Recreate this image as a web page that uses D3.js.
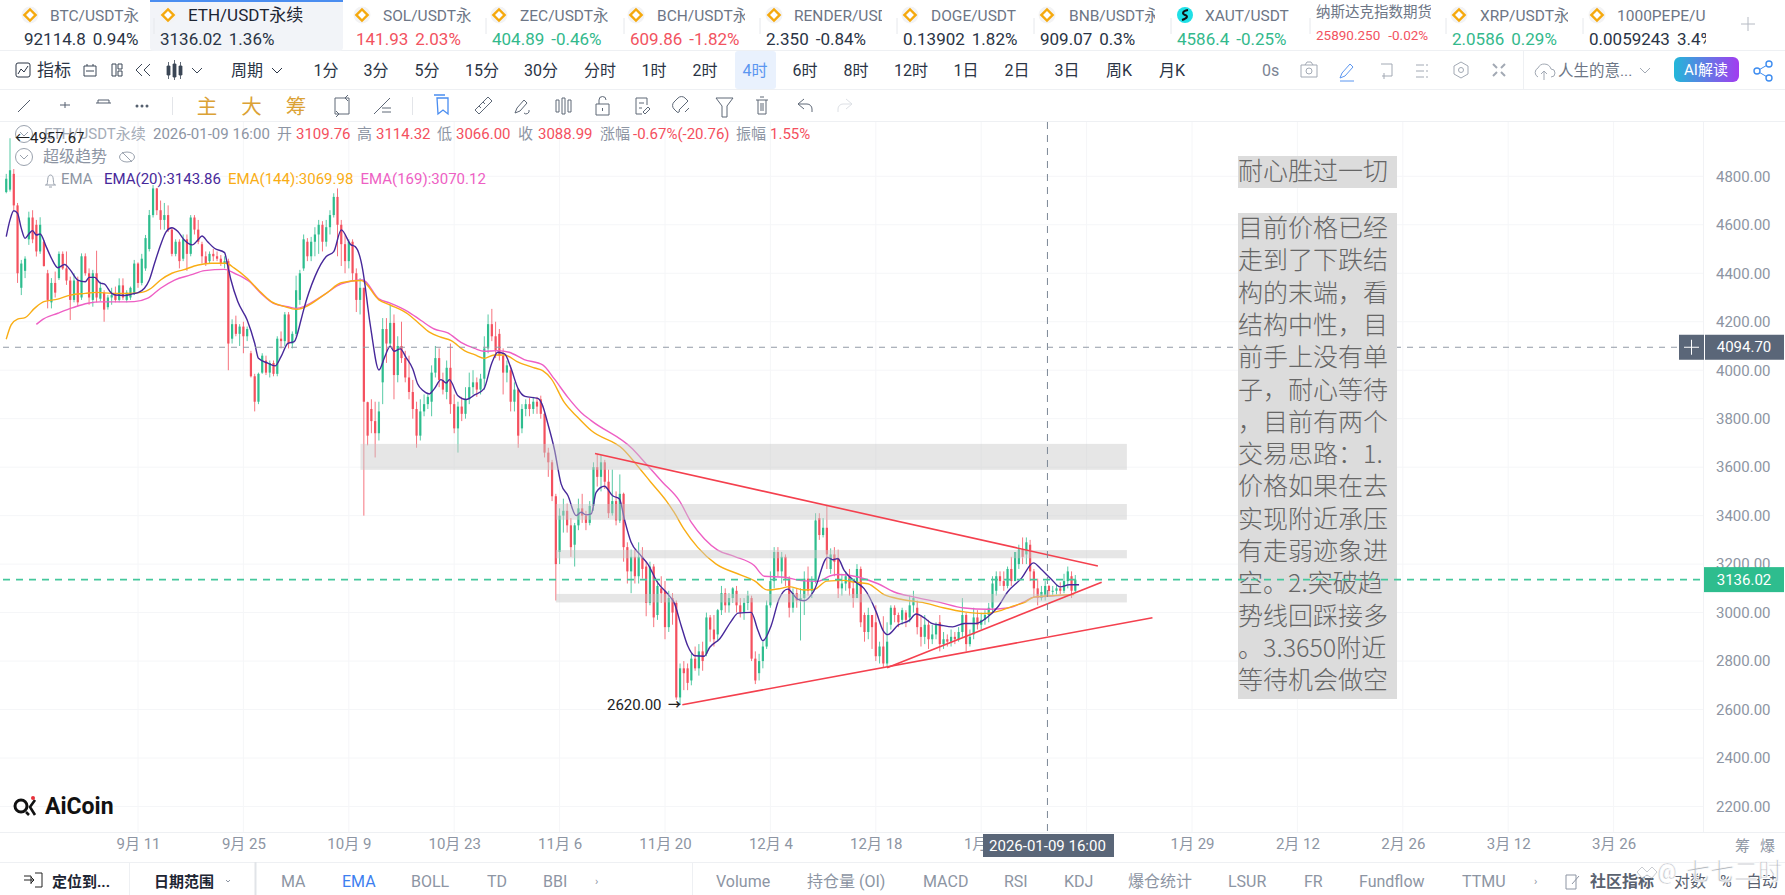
<!DOCTYPE html>
<html>
<head>
<meta charset="utf-8">
<script src="https://cdn.jsdelivr.net/npm/d3@7"></script>
<style>
  html, body { margin: 0; padding: 0; background: #fff; overflow: hidden; }
  text { font-family: Roboto, "Noto Sans CJK SC", sans-serif; }
</style>
</head>
<body>
<script>
// 12h candles, first one is 2025-08-24 12:00
var opens = [4735,4745,4810,4680,4340,4410,4540,4630,4600,4490,4530,4400,4280,4360,4380,4480,4420,4370,4290,4370,
  4300,4470,4400,4290,4400,4295,4320,4260,4300,4310,4290,4350,4290,4300,4320,4440,4360,4420,4500,4640,
  4750,4660,4620,4640,4580,4480,4530,4460,4540,4480,4630,4580,4520,4470,4450,4480,4470,4460,4440,4450,
  4130,4190,4150,4180,4140,4070,3975,3870,3990,4040,3990,4030,3985,4130,4120,4230,4110,4150,4290,4420,
  4530,4470,4530,4560,4600,4530,4590,4640,4715,4600,4520,4450,4530,4400,4290,4340,3868,3840,3790,3740,
  3950,4170,4110,4195,3980,4100,4050,3970,3910,3840,3730,3830,3860,3870,3990,4050,3960,3910,4010,3860,
  3760,3850,3820,3880,3930,3950,3920,3965,4090,4190,4140,4150,4060,3990,4000,3870,3920,3760,3840,3860,
  3840,3870,3880,3820,3660,3620,3480,3250,3400,3420,3360,3280,3360,3430,3400,3370,3440,3600,3560,3620,
  3540,3410,3460,3380,3490,3270,3170,3230,3150,3230,3190,3040,3190,2990,3100,3090,2940,3060,3040,2650,
  2770,2770,2720,2810,2770,2840,2830,2980,2930,2910,3010,3080,3030,3060,3090,3030,3000,3040,3060,2810,
  2750,2800,2860,3030,3130,3250,3170,3230,3140,3020,3080,3050,3060,3140,3090,3130,3390,3320,3350,3180,
  3240,3225,3100,3120,3150,3100,3060,3180,2990,2920,2990,2960,2820,2860,2790,2950,3020,2990,2970,3000,
  2980,3030,3020,2940,2900,2950,2890,2910,2960,2870,2890,2880,2900,2890,2920,2990,2870,2910,2980,2950,
  2970,2990,3020,3090,3150,3130,3110,3180,3130,3200,3260,3240,3280,3170,3100,3060,3070,3109.76,3088.99,3090,
  3100,3090,3130,3150,3090];
var highs = [4810,4957,4830,4690,4455,4470,4654,4660,4620,4631,4537,4414,4380,4407,4490,4490,4490,4386,4400,4386,
  4482,4482,4420,4414,4493,4365,4330,4310,4340,4345,4379,4379,4330,4345,4455,4445,4480,4558,4661,4764,
  4752,4700,4690,4680,4590,4540,4540,4560,4560,4640,4640,4620,4530,4490,4490,4500,4490,4475,4470,4460,
  4210,4225,4190,4200,4180,4080,3985,3990,4070,4060,4040,4040,4140,4160,4240,4240,4160,4390,4414,4560,
  4545,4550,4590,4620,4615,4620,4660,4730,4750,4620,4560,4540,4540,4420,4380,4340,3870,3880,3870,3870,
  4215,4215,4270,4230,4140,4200,4080,4060,3960,3870,3880,3900,3905,4020,4100,4090,3990,4040,4110,3900,
  3870,3890,3930,3990,4000,3970,3985,4140,4230,4253,4200,4170,4090,4040,4020,3950,3925,3860,3880,3885,
  3890,3890,3895,3825,3680,3630,3490,3430,3470,3450,3390,3370,3470,3490,3420,3460,3620,3654,3650,3630,
  3590,3590,3500,3570,3495,3290,3260,3260,3290,3270,3210,3210,3200,3130,3150,3130,3090,3080,3050,2790,
  2800,2790,2830,2860,2870,2880,3000,2990,2990,3015,3110,3100,3080,3105,3110,3060,3060,3090,3070,2840,
  2830,2880,3050,3170,3270,3270,3250,3240,3150,3100,3100,3100,3170,3190,3150,3410,3410,3390,3440,3265,
  3270,3260,3160,3170,3180,3130,3200,3190,3000,3020,2990,3030,2880,2985,2960,3030,3030,3000,3020,3010,
  3070,3090,3050,2990,2990,2970,2950,2960,2990,2920,2910,2930,2920,2940,3060,3000,2930,3020,3010,3000,
  3010,3040,3150,3170,3170,3170,3190,3230,3223,3280,3310,3310,3300,3180,3140,3110,3130,3114.32,3110,3115,
  3125,3160,3190,3170,3155];
var lows = [4730,4737,4660,4360,4310,4380,4517,4524,4469,4480,4427,4255,4255,4300,4372,4414,4352,4207,4280,4262,
  4290,4390,4270,4262,4280,4285,4200,4250,4270,4280,4280,4290,4280,4290,4310,4340,4350,4410,4490,4630,
  4640,4580,4580,4570,4470,4470,4420,4450,4410,4470,4560,4520,4440,4430,4440,4450,4450,4430,4420,4000,
  4110,4140,4100,4070,4120,3970,3830,3860,3985,3980,3970,3975,3975,4090,4100,4090,4090,4140,4270,4410,
  4450,4450,4470,4480,4490,4510,4560,4630,4470,4430,4400,4420,4370,4240,4230,3400,3690,3740,3640,3710,
  3860,4030,4100,3880,3950,4030,3950,3880,3800,3680,3710,3810,3840,3810,3970,3930,3900,3880,3820,3740,
  3660,3790,3800,3860,3900,3890,3900,3920,4070,4120,4050,4040,3900,3950,3830,3830,3680,3740,3810,3810,
  3820,3820,3800,3640,3560,3460,3050,3200,3330,3330,3230,3190,3340,3370,3340,3360,3420,3520,3500,3510,
  3390,3400,3360,3370,3210,3120,3080,3120,3120,3140,2985,3030,2940,2970,3040,2890,2920,2950,2640,2620,
  2680,2680,2700,2760,2740,2760,2820,2880,2860,2880,2990,3000,3000,3040,3000,2980,2970,3010,2800,2705,
  2720,2770,2850,3020,3100,3150,3120,3110,2980,3000,3020,2885,2990,3070,3060,3120,3300,3310,3180,3160,
  3150,3060,3070,3090,3070,3020,3060,2940,2880,2890,2850,2800,2790,2775,2776,2930,2960,2940,2950,2940,
  2960,3000,2910,2860,2870,2850,2870,2890,2840,2850,2860,2860,2870,2880,2900,2840,2860,2890,2930,2930,
  2950,2960,3000,3070,3110,3090,3100,3110,3130,3180,3200,3200,3130,3060,3030,3050,3050,3066,3070,3075,
  3075,3080,3100,3060,3085];
var closes = [4790,4825,4680,4400,4440,4460,4630,4540,4490,4600,4430,4290,4360,4320,4480,4420,4370,4290,4370,4280,
  4470,4400,4300,4400,4300,4340,4250,4300,4310,4290,4350,4300,4320,4340,4440,4360,4460,4545,4640,4750,
  4660,4620,4640,4580,4480,4530,4450,4540,4480,4630,4580,4530,4470,4440,4480,4470,4460,4440,4450,4110,
  4190,4150,4180,4140,4170,3975,3870,3985,4060,3990,4030,3985,4130,4120,4230,4110,4150,4330,4400,4540,
  4470,4530,4560,4600,4530,4590,4640,4715,4600,4520,4450,4530,4400,4290,4340,3870,3730,3790,3740,3830,
  4170,4110,4195,3980,4100,4050,3970,3910,3840,3730,3830,3860,3890,3990,4050,3960,3920,4010,3860,3760,
  3850,3820,3880,3930,3950,3920,3965,4090,4190,4140,4080,4060,3990,4020,3870,3920,3730,3840,3860,3840,
  3870,3850,3820,3660,3620,3480,3200,3400,3420,3360,3270,3360,3430,3400,3370,3440,3600,3560,3620,3540,
  3410,3460,3380,3490,3270,3170,3230,3150,3230,3180,3040,3190,2980,3110,3080,2940,3060,3000,2650,2770,
  2750,2710,2810,2770,2840,2800,2980,2930,2890,3010,3080,3030,3060,3100,3030,3000,3040,3070,2810,2720,
  2800,2860,3030,3130,3250,3170,3230,3140,3020,3080,3050,3060,3140,3090,3130,3380,3320,3350,3240,3240,
  3210,3100,3120,3150,3100,3060,3180,2960,2920,2990,2940,2820,2860,2790,2880,3020,2990,2960,3010,2970,
  3030,3060,2940,2900,2950,2890,2910,2950,2870,2890,2880,2900,2890,2920,2990,2870,2900,2980,2950,2970,
  2990,3020,3120,3150,3130,3110,3180,3130,3250,3260,3230,3290,3170,3100,3060,3085,3110,3088.99,3090,3100,
  3090,3130,3170,3090,3136.02];

// ema readings, position given in candle slots
var ema20At = [0,1,2,3,4,5,6,7,8,9,10.6,12,13.7,15.5,17,19,21,22,23.5,25,26,28,29,31.5,33.6,35,36.7,38,39.4,41,42.5,44,45.6,47.3,49.4,50.9,52,53.5,55.3,58,58.7,59.7,61.5,64,66,67,69.5,71.4,73,74.8,76.5,78.3,79,82,85,87,89,91.6,92.7,94.7,95.7,96,97,99,100.5,102,103,104.7,106.2,108,109.3,110.7,112.4,113.7,115.5,116.9,117.7,120,122.2,124.4,126.9,128.9,130.6,132.4,134,136,137.8,141.2,142.3,143.9,145.6,147.4,149.2,151.4,152.7,154,155.4,156.7,158.9,161.1,162.9,164.2,166,168.2,170.4,173,176.1,177.4,179.3,181,182.9,185.4,186.9,189.5,192.7,194.4,197.9,199.7,201,203.2,205.3,207.6,210.2,212,214.6,218.2,219.6,220.9,222.6,225.8,227.9,231.1,232.9,234.2,236.9,239.9,241.7,243.9,245.7,248.3,251.4,254.5,257.6,260.7,263.4,266,269.6,272.9,274.8,277.5,280,282.4,285];
var ema20 = [4551,4620,4658,4647,4585,4544,4562,4576,4558,4562,4510,4462,4423,4436,4414,4372,4365,4383,4383,4359,4356,4317,4310,4308,4315,4320,4338,4372,4441,4517,4572,4588,4572,4537,4517,4537,4554,4530,4503,4485,4441,4372,4283,4207,4111,4049,4029,4018,4056,4111,4118,4207,4249,4386,4469,4489,4579,4517,4510,4414,4304,4266,4156,4001,4053,4099,4078,4088,4053,4005,3943,3916,3902,3923,3961,3947,3961,3895,3879,3898,3923,4026,4074,4067,4012,3923,3892,3884,3861,3778,3675,3531,3483,3400,3414,3403,3407,3496,3521,3482,3469,3386,3290,3242,3201,3125,3070,3042,2946,2864,2822,2820,2857,2891,2967,2998,3001,2926,2884,2946,3056,3097,3056,3049,3091,3228,3218,3223,3174,3124,3099,3003,2927,2909,2948,2968,2994,2978,2957,2948,2941,2955,2955,2982,3023,3085,3140,3205,3181,3140,3106,3115,3115];
var ema144At = [0,1.3,3,5,7.5,10,13.7,17,21,24,28,32,36,38.5,41,44,47,51,54.4,58.4,60.6,64,67,70.4,74,77,85,89,94.3,99,102,106.7,109.3,112.4,115.5,118.2,121.7,124.4,127,129.6,132.3,136,140.4,142.5,144.8,148.2,151.8,155.4,163.8,168.7,171.3,175.3,177.4,180,183.7,188.5,195.2,198.7,202.3,205.8,208,212,214.6,218,222.6,225,228.9,233.2,237.7,243.9,249.2,254.5,259.8,263.4,267.4,270.4,273,276.7,283.7];
var ema144 = [4128,4187,4211,4217,4255,4283,4293,4310,4317,4321,4317,4317,4321,4338,4372,4400,4414,4434,4441,4441,4421,4379,4331,4283,4262,4251,4317,4361,4370,4290,4269,4232,4198,4157,4136,4122,4081,4064,4049,4063,4063,4033,4009,3998,3964,3868,3806,3751,3675,3586,3537,3462,3414,3345,3269,3201,3155,3132,3093,3100,3107,3093,3095,3130,3133,3126,3119,3074,3055,3040,3019,3003,2996,3005,3027,3041,3064,3069,3074];
var ema169At = [8,9.7,13.7,17.7,21.7,25,29.6,34,37.6,41,44.7,49,52.7,58,60.6,64.6,67.7,71,74.8,77,84,89,94.7,99,102,106.7,110.2,113.7,117.3,120.8,124.4,127,130.6,133.6,137.6,142.5,145.6,149.2,152.7,155.4,166.4,170.4,174.4,178.8,182,185.5,189,193.4,198.7,201.4,206.7,211.2,215.6,219,220.9,226.3,231.6,235.9,241.3,247.5,254.5,260.7,266,270.4,273,278.5,283.2];
var ema169 = [4189,4210,4235,4258,4276,4282,4282,4283,4297,4338,4372,4393,4411,4416,4400,4366,4317,4276,4262,4255,4307,4356,4372,4294,4277,4242,4205,4170,4154,4115,4090,4078,4081,4074,4044,4022,3964,3888,3826,3792,3675,3606,3537,3462,3372,3304,3258,3232,3194,3150,3146,3132,3129,3152,3157,3147,3119,3085,3064,3044,3019,3014,3019,3044,3064,3069,3074];

// drawn trend lines: candle slot + price at both ends
var trendStart = [[156.4,3656],[179.6,2620],[234,2772]];
var trendEnd = [[290,3192],[304.5,2979],[291,3125]];
// grey zones: first candle slot, top price, bottom price
var zoneStart = [94.1,146,146,146];
var zoneTop = [3696,3448,3258,3077];
var zoneBottom = [3589,3383,3224,3042];
var zoneEnd = 297.7;

var priceTicks = [2200,2400,2600,2800,3000,3200,3400,3600,3800,4000,4200,4400,4600,4800];
var dateTicks = ["2025-09-11","2025-09-25","2025-10-09","2025-10-23","2025-11-06","2025-11-20","2025-12-04","2025-12-18","2026-01-01","2026-01-15","2026-01-29","2026-02-12","2026-02-26","2026-03-12","2026-03-26"];
// 1月 15 sits under the crosshair label in the picture
var dateLabels = ["9月 11","9月 25","10月 9","10月 23","11月 6","11月 20","12月 4","12月 18","1月 1","","1月 29","2月 12","2月 26","3月 12","3月 26"];

var noteTitle = "耐心胜过一切";
var noteLines = ["目前价格已经","走到了下跌结","构的末端，看","结构中性，目","前手上没有单","子，耐心等待","，目前有两个","交易思路：1.","价格如果在去","实现附近承压","有走弱迹象进","空。2.突破趋","势线回踩接多","。3.3650附近","等待机会做空"];

var tabNames = ["BTC/USDT永续","ETH/USDT永续","SOL/USDT永续","ZEC/USDT永续","BCH/USDT永续","RENDER/USDT","DOGE/USDT","BNB/USDT永续","XAUT/USDT","纳斯达克指数期货","XRP/USDT永续","1000PEPE/USDT"];
var tabPrices = ["92114.8","3136.02","141.93","404.89","609.86","2.350","0.13902","909.07","4586.4","25890.250","2.0586","0.0059243"];
var tabChanges = ["0.94%","1.36%","2.03%","-0.46%","-1.82%","-0.84%","1.82%","0.3%","-0.25%","-0.02%","0.29%","3.4%"];
var tabColors = ["#2a3445","#2a3445","#f2535f","#33b98c","#f2535f","#2a3445","#2a3445","#2a3445","#33b98c","#f2535f","#33b98c","#2a3445"];
var tabLeft = [24,160,356,492,630,766,903,1040,1177,1316,1452,1589];
var tabIcon = [30,168,362,499,636,774,910,1047,1185,0,1459,1597];
var tabNameX = [50,188,383,520,657,794,931,1069,1205,1316,1480,1617];
var tabRight = [139,335,471,608,745,882,1019,1155,1294,1431,1568,1706];

var periods = ["周期","1分","3分","5分","15分","30分","分时","1时","2时","4时","6时","8时","12时","1日","2日","3日","周K","月K"];
var periodX = [247,326,376,427,482,541,600,654,705,755,805,856,911,966,1017,1067,1119,1172];

var bottomLeft = ["MA","EMA","BOLL","TD","BBI","Volume","持仓量 (OI)","MACD","RSI","KDJ","爆仓统计","LSUR","FR","Fundflow","TTMU"];
var bottomX = [281,342,411,487,543,716,807,923,1004,1064,1128,1228,1304,1359,1462];

var W = 1785, H = 895;
var green = "#2ebd8e", red = "#f4505e", slate = "#5a6678", grey = "#8d95a3";

var svg = d3.select("body").append("svg").attr("width",W).attr("height",H).style("display","block");
svg.append("rect").attr("width",W).attr("height",H).attr("fill","#fff");

var slotTime = function(i){ return new Date(Date.UTC(2025,7,24,12) + i*12*3600*1000); };
var x = d3.scaleUtc().domain([new Date(dateTicks[0]),new Date(dateTicks[14])]).range([138,1613.6]);
var y = d3.scaleLinear().domain([2200,4800]).range([806.5,176.3]);
var xs = function(i){ return x(slotTime(i)); };

// grid
var grid = svg.append("g").attr("stroke","#f5f6f8");
grid.selectAll(".gx").data(dateTicks).enter().append("line")
  .attr("x1",function(d){ return x(new Date(d)); }).attr("x2",function(d){ return x(new Date(d)); })
  .attr("y1",122).attr("y2",832);
grid.selectAll(".gy").data(priceTicks).enter().append("line")
  .attr("x1",0).attr("x2",1703).attr("y1",function(d){ return y(d); }).attr("y2",function(d){ return y(d); });

// candles
var candles = d3.range(closes.length);
var colorOf = function(i){ return closes[i] >= opens[i] ? green : red; };
svg.append("g").selectAll("line").data(candles).enter().append("line")
  .attr("x1",xs).attr("x2",xs)
  .attr("y1",function(i){ return y(highs[i]); }).attr("y2",function(i){ return y(lows[i]); })
  .attr("stroke",colorOf).attr("stroke-width",1).attr("stroke-opacity",0.8);
svg.append("g").selectAll("rect").data(candles).enter().append("rect")
  .attr("x",function(i){ return xs(i)-1.1; }).attr("width",2.2)
  .attr("y",function(i){ return y(Math.max(opens[i],closes[i])); })
  .attr("height",function(i){ return Math.max(1,Math.abs(y(opens[i])-y(closes[i]))); })
  .attr("fill",colorOf);

// emas
var emaLine = d3.line().curve(d3.curveMonotoneX)
  .x(function(d){ return xs(d[0]); }).y(function(d){ return y(d[1]); });
var drawEma = function(at,vals,color){
  svg.append("path").attr("fill","none").attr("stroke",color).attr("stroke-width",1.4)
    .attr("d",emaLine(d3.zip(at,vals)));
};
drawEma(ema169At,ema169,"#ee5fc4");
drawEma(ema144At,ema144,"#f9ad14");
drawEma(ema20At,ema20,"#47289a");

// zones
svg.append("g").selectAll("rect").data(zoneTop).enter().append("rect")
  .attr("x",function(d,i){ return xs(zoneStart[i]); })
  .attr("width",function(d,i){ return xs(zoneEnd)-xs(zoneStart[i]); })
  .attr("y",function(d){ return y(d); })
  .attr("height",function(d,i){ return y(zoneBottom[i])-y(d); })
  .attr("fill","#c8c8c8").attr("fill-opacity",0.45);

// trend lines
svg.append("g").selectAll("line").data(trendStart).enter().append("line")
  .attr("x1",function(d){ return xs(d[0]); }).attr("y1",function(d){ return y(d[1]); })
  .attr("x2",function(d,i){ return xs(trendEnd[i][0]); }).attr("y2",function(d,i){ return y(trendEnd[i][1]); })
  .attr("stroke","#f4404e").attr("stroke-width",1.6);

// crosshair
var crossX = x(new Date(Date.UTC(2026,0,9,16)))+1;
svg.append("line").attr("x1",crossX).attr("x2",crossX).attr("y1",122).attr("y2",832)
  .attr("stroke","#7c8796").attr("stroke-dasharray","7 6");
svg.append("line").attr("x1",3).attr("x2",1679).attr("y1",y(4094.7)).attr("y2",y(4094.7))
  .attr("stroke","#939aa6").attr("stroke-dasharray","6 6");

// low marker
svg.append("text").attr("x",607).attr("y",y(2620)+5).attr("font-size",15).attr("fill","#222").text("2620.00");
svg.append("text").attr("x",668).attr("y",y(2620)+4).attr("font-size",13).attr("font-weight",700).attr("fill","#222").text("→");

// note boxes
var note = svg.append("g").attr("font-family","'Noto Sans CJK SC'").attr("font-size",25).attr("fill","#666");
note.append("rect").attr("x",1238).attr("y",156).attr("width",159).attr("height",32).attr("fill","#dcdcdc");
note.append("rect").attr("x",1238).attr("y",213).attr("width",159).attr("height",486).attr("fill","#dcdcdc");
note.append("text").attr("x",1238).attr("y",180).style("font-family","'Noto Sans CJK SC'").style("font-weight",300).text(noteTitle);
note.selectAll(".l").data(noteLines).enter().append("text")
  .attr("x",1238).attr("y",function(d,i){ return 237+i*32.3; })
  .style("font-family","'Noto Sans CJK SC'").style("font-weight",300).text(function(d){ return d; });

// last price line goes over the note
svg.append("line").attr("x1",3).attr("x2",1704).attr("y1",y(3136.02)).attr("y2",y(3136.02))
  .attr("stroke","#45c79c").attr("stroke-width",1.8).attr("stroke-dasharray","7 6");

// right axis
svg.append("line").attr("x1",1703.5).attr("x2",1703.5).attr("y1",122).attr("y2",832).attr("stroke","#f1f2f5");
var yAxis = d3.axisRight(y).tickValues(priceTicks).tickSize(0).tickPadding(0).tickFormat(d3.format(".2f"));
var yg = svg.append("g").attr("transform","translate(1716,0)").call(yAxis);
yg.select(".domain").remove();
yg.selectAll("text").attr("font-size",15).attr("fill",grey).style("font-family","Roboto");

var priceBox = function(v,color,left){
  svg.append("rect").attr("x",left).attr("y",y(v)-12.5).attr("width",1784-left).attr("height",25).attr("fill",color);
  svg.append("text").attr("x",1744).attr("y",y(v)+5).attr("text-anchor","middle")
    .attr("font-size",15).attr("fill","#fff").text(d3.format(".2f")(v));
};
priceBox(3136.02,green,1704);
priceBox(4094.7,slate,1705);
svg.append("rect").attr("x",1679).attr("y",y(4094.7)-12.5).attr("width",25).attr("height",25).attr("fill",slate);
svg.append("path").attr("d","M1684,"+y(4094.7)+"h15M1691.5,"+(y(4094.7)-7.5)+"v15").attr("stroke","#fff");

// bottom axis
var xAxis = d3.axisBottom(x).tickValues(dateTicks.map(function(d){ return new Date(d); })).tickSize(0).tickPadding(0)
  .tickFormat(function(d,i){ return dateLabels[i]; });
var xg = svg.append("g").attr("transform","translate(0,840)").call(xAxis);
xg.select(".domain").remove();
xg.selectAll("text").attr("font-size",15).attr("fill",grey).attr("dy","0.6em").style("font-family","Roboto,'Noto Sans CJK SC'");
svg.append("rect").attr("x",983).attr("y",834).attr("width",131).attr("height",23).attr("fill",slate);
svg.append("text").attr("x",crossX).attr("y",851).attr("text-anchor","middle").attr("font-size",15).attr("fill","#fff").text("2026-01-09 16:00");
svg.append("path").attr("d","M0,832.5H1785M0,862.5H1785M0,50.5H1785M0,89.5H1785M0,121.5H1785").attr("stroke","#eef0f3").attr("fill","none");
svg.selectAll(".fx").data(["筹","爆"]).enter().append("text").attr("x",function(d,i){ return 1735+i*25; }).attr("y",851)
  .attr("font-size",15).attr("fill",grey).text(function(d){ return d; });

// logo
svg.append("circle").attr("cx",21).attr("cy",806).attr("r",6).attr("fill","none").attr("stroke","#111").attr("stroke-width",3);
svg.append("path").attr("d","M26,812L29,815M35,800L30,807L35,815").attr("stroke","#111").attr("stroke-width",2.6).attr("fill","none");
svg.append("circle").attr("cx",33).attr("cy",798).attr("r",2).attr("fill","#e8303a");
svg.append("text").attr("x",45).attr("y",814).attr("font-size",23).attr("font-weight",700).attr("fill","#111").text("AiCoin");

// legend rows
var legendText = function(px,py,s,color,size){
  return svg.append("text").attr("x",px).attr("y",py).attr("font-size",size||15).attr("fill",color).text(s);
};
var chevronRound = function(cx,cy){
  svg.append("circle").attr("cx",cx).attr("cy",cy).attr("r",8.5).attr("fill","#fff").attr("stroke","#9aa2ae");
  svg.append("path").attr("d","M"+(cx-4)+","+(cy-2)+"l4,4l4,-4").attr("fill","none").attr("stroke","#9aa2ae");
};
chevronRound(24,134);
chevronRound(24,157);
legendText(44,139,"ETH/USDT永续","#a6adb8");
legendText(153,139,"2026-01-09 16:00",grey);
legendText(277,139,"开",grey); legendText(296,139,"3109.76",red);
legendText(357,139,"高",grey); legendText(376,139,"3114.32",red);
legendText(437,139,"低",grey); legendText(456,139,"3066.00",red);
legendText(518,139,"收",grey); legendText(538,139,"3088.99",red);
legendText(600,139,"涨幅",grey); legendText(633,139,"-0.67%(-20.76)",red);
legendText(736,139,"振幅",grey); legendText(770,139,"1.55%",red);
legendText(15,143,"←4957.67","#222");
legendText(43,162,"超级趋势",grey,16);
svg.append("ellipse").attr("cx",127).attr("cy",157).attr("rx",7.5).attr("ry",5).attr("fill","none").attr("stroke","#9aa2ae");
svg.append("path").attr("d","M122,152L132,162").attr("stroke","#9aa2ae");
svg.append("path").attr("d","M45,185h11M46.5,185c2,-2,0,-10,4,-10s2,8,4,10M49,187h3").attr("fill","none").attr("stroke","#9aa2ae");
legendText(61,184,"EMA",grey,15);
legendText(104,184,"EMA(20):3143.86","#47289a",15);
legendText(228,184,"EMA(144):3069.98","#f9ad14",15);
legendText(360.5,184,"EMA(169):3070.12","#ee5fc4",15);

// ticker tabs
svg.append("rect").attr("x",150).attr("y",0).attr("width",193).attr("height",51).attr("rx",4).attr("fill","#f2f4f8");
svg.append("rect").attr("x",150).attr("y",0).attr("width",193).attr("height",2).attr("fill","#4a8df0");
var defs = svg.append("defs");
tabNames.forEach(function(name,i){
  defs.append("clipPath").attr("id","tab"+i).append("rect").attr("x",tabLeft[i]-4).attr("y",0).attr("width",tabRight[i]-tabLeft[i]+4).attr("height",50);
  var g = svg.append("g").attr("clip-path","url(#tab"+i+")");
  var isIndex = name.indexOf("纳斯达克") === 0, active = i === 1;
  g.append("text").attr("x",tabNameX[i]).attr("y",isIndex ? 17 : 21).attr("font-size",active ? 17 : (isIndex ? 14.5 : 15.5))
    .attr("fill",active ? "#1d2533" : "#6d7686").text(name);
  var t = g.append("text").attr("x",tabLeft[i]).attr("y",isIndex ? 40 : 45).attr("font-size",isIndex ? 13.5 : 17).attr("fill",tabColors[i]);
  t.append("tspan").text(tabPrices[i]);
  t.append("tspan").attr("dx",isIndex ? 8 : 7).text(tabChanges[i]);
  if (i > 0 && i !== 2) svg.append("line").attr("x1",tabLeft[i]-6).attr("x2",tabLeft[i]-6).attr("y1",18).attr("y2",34).attr("stroke","#e6e8ec");
  if (isIndex) return;
  if (name.indexOf("XAUT") === 0) {
    svg.append("circle").attr("cx",tabIcon[i]).attr("cy",15).attr("r",8).attr("fill","#1fe0e6");
    svg.append("path").attr("d","M"+(tabIcon[i]+3)+",10c-6,1,-6,4,-3,5s3,3,-3,5").attr("fill","none").attr("stroke","#111").attr("stroke-width",2);
  } else {
    svg.append("circle").attr("cx",tabIcon[i]).attr("cy",15).attr("r",8.5).attr("fill","#f3f3f4");
    svg.append("rect").attr("x",tabIcon[i]-4).attr("y",11).attr("width",8).attr("height",8)
      .attr("transform","rotate(45,"+tabIcon[i]+",15)").attr("fill","#fff").attr("stroke","#f5a90e").attr("stroke-width",2.4);
  }
});
svg.append("path").attr("d","M1748,17v14M1741,24h14").attr("stroke","#b5bac3");

// period toolbar
svg.append("rect").attr("x",735).attr("y",51).attr("width",41).attr("height",38).attr("rx",3).attr("fill","#e9f1fd");
svg.selectAll(".p").data(periods).enter().append("text")
  .attr("x",function(d,i){ return periodX[i]; }).attr("y",76).attr("text-anchor","middle").attr("font-size",16)
  .attr("fill",function(d){ return d === "4时" ? "#5b96f0" : "#2a3445"; }).text(function(d){ return d; });
svg.append("path").attr("d","M272,68l5,5l5,-5").attr("fill","none").attr("stroke","#2a3445");
svg.append("rect").attr("x",16).attr("y",63).attr("width",14).attr("height",14).attr("rx",2).attr("fill","none").attr("stroke","#2a3445");
svg.append("path").attr("d","M18,74l3,-5l3,3l4,-6").attr("fill","none").attr("stroke","#2a3445");
legendText(37,76,"指标","#2a3445",17);
var tool = "#3b4656";
svg.append("path").attr("d","M84,66h12v10h-12zM87,66v-2M93,66v-2M86,71h8").attr("fill","none").attr("stroke",tool);
svg.append("path").attr("d","M112,64h4v12h-4zM118,64h4v5h-4zM118,71h4v5h-4z").attr("fill","none").attr("stroke",tool);
svg.append("path").attr("d","M142,64l-6,6l6,6M150,64l-6,6l6,6").attr("fill","none").attr("stroke",tool);
svg.append("path").attr("d","M167,66v9h3v-9zM173,64v13h3v-13zM179,66v9h3v-9zM168.5,62v17M174.5,60v20M180.5,62v17").attr("fill",tool).attr("stroke",tool).attr("stroke-width",0.8);
svg.append("path").attr("d","M192,68l5,5l5,-5").attr("fill","none").attr("stroke",tool);
legendText(1262,76,"0s","#7b8493",16);
var ic = "#a2a9b4";
svg.append("path").attr("d","M1301,65h16v12h-16zM1305,65l2,-3h4l2,3").attr("fill","none").attr("stroke",ic);
svg.append("circle").attr("cx",1309).attr("cy",71).attr("r",3).attr("fill","none").attr("stroke",ic);
svg.append("path").attr("d","M1340,78l2,-5l8,-9l3,3l-8,9zM1340,81h14").attr("fill","none").attr("stroke","#5b96f0");
svg.append("path").attr("d","M1381,64h11v12h-5M1382,76h5M1384,73v6").attr("fill","none").attr("stroke",ic);
svg.append("path").attr("d","M1416,65h12M1416,71h12M1416,77h12").attr("fill","none").attr("stroke",ic).attr("stroke-dasharray","8 2");
svg.append("path").attr("d","M1461,62l7,4v8l-7,4l-7,-4v-8z").attr("fill","none").attr("stroke",ic);
svg.append("circle").attr("cx",1461).attr("cy",70).attr("r",2.5).attr("fill","none").attr("stroke",ic);
svg.append("path").attr("d","M1493,64l4,4M1505,64l-4,4M1493,76l4,-4M1505,76l-4,-4").attr("fill","none").attr("stroke",ic).attr("stroke-width",2);
svg.append("line").attr("x1",1523.5).attr("x2",1523.5).attr("y1",51).attr("y2",89).attr("stroke","#eef0f3");
svg.append("path").attr("d","M1538,77a5,5,0,0,1,0,-9a7,7,0,0,1,13,1a4,4,0,0,1,0,8M1544,80v-9l-3,3M1544,71l3,3").attr("fill","none").attr("stroke",ic);
legendText(1558,76,"人生的意...","#6d7686",15.5);
svg.append("path").attr("d","M1640,68l5,5l5,-5").attr("fill","none").attr("stroke",ic);
var grad = defs.append("linearGradient").attr("id","ai");
grad.append("stop").attr("offset","0").attr("stop-color","#22b7d9");
grad.append("stop").attr("offset","1").attr("stop-color","#a23cf0");
svg.append("rect").attr("x",1674).attr("y",57).attr("width",65).attr("height",25).attr("rx",6).attr("fill","url(#ai)");
svg.append("text").attr("x",1706).attr("y",75).attr("text-anchor","middle").attr("font-size",15).attr("fill","#fff").text("AI解读");
svg.append("path").attr("d","M1757,71L1769,64M1757,71L1769,78").attr("stroke","#3f8df0");
[[1757,71],[1769,64],[1769,78]].forEach(function(p){
  svg.append("circle").attr("cx",p[0]).attr("cy",p[1]).attr("r",3).attr("fill","#fff").attr("stroke","#3f8df0").attr("stroke-width",1.4);
});

// drawing toolbar
svg.append("path").attr("d","M18,112L30,100M60,105h10M65,102v6M96,103h15M98,103v-3h11v3").attr("fill","none").attr("stroke","#555f6e");
svg.selectAll(".dot").data([0,1,2]).enter().append("circle").attr("cx",function(d){ return 137+d*5; }).attr("cy",106).attr("r",1.5).attr("fill","#555f6e");
svg.append("line").attr("x1",172.5).attr("x2",172.5).attr("y1",97).attr("y2",115).attr("stroke","#e3e5e9");
svg.append("line").attr("x1",412.5).attr("x2",412.5).attr("y1",97).attr("y2",115).attr("stroke","#e3e5e9");
svg.selectAll(".m").data(["主","大","筹"]).enter().append("text")
  .attr("x",function(d,i){ return 207+i*44.5; }).attr("y",114).attr("text-anchor","middle").attr("font-size",20.5)
  .attr("fill","#dba235").text(function(d){ return d; });
var ig = "#5e6877";
svg.append("path").attr("d","M335,98h14v16h-14zM348,95l-3,3l3,3M336,117l3,-3l-3,-3").attr("fill","none").attr("stroke",ig);
svg.append("path").attr("d","M374,114L390,98M382,108h9M382,112h9").attr("fill","none").attr("stroke",ig);
svg.append("path").attr("d","M437,98h11v16l-5,-4l-5,4zM434,95h11").attr("fill","none").attr("stroke","#4a8df0").attr("stroke-width",1.3);
svg.append("path").attr("d","M475,110L488,97L492,101L479,114zM479,106l2,2M483,102l2,2").attr("fill","none").attr("stroke",ig);
svg.append("path").attr("d","M515,113l2,-5l7,-8l3,3l-7,8zM524,113a3,3,0,0,0,5,-3").attr("fill","none").attr("stroke",ig);
svg.append("path").attr("d","M556,100h3v12h-3zM562,98h3v16h-3zM568,100h3v12h-3z").attr("fill","none").attr("stroke",ig);
svg.append("path").attr("d","M596,104h13v11h-13zM599,104v-4a3.5,3.5,0,0,1,7,0M602.5,108v3").attr("fill","none").attr("stroke",ig);
svg.append("path").attr("d","M636,98h11v7M636,98v16h6M639,103h5M639,108h3M645,114l5,-5l-2,-2l-5,5z").attr("fill","none").attr("stroke",ig);
svg.append("path").attr("d","M677,112l-3,-3a5,5,0,0,1,0,-7l4,-4a5,5,0,0,1,7,0l3,3l-9,9a1,1,0,0,1,-2,2zM685,112l4,-4").attr("fill","none").attr("stroke",ig);
svg.append("path").attr("d","M716,98h17l-6,8v11h-5v-11z").attr("fill","none").attr("stroke",ig);
svg.append("path").attr("d","M756,100h12M758,100v14h8v-14M760,97h4M761,103v8M763,103v8").attr("fill","none").attr("stroke",ig);
svg.append("path").attr("d","M798,104l6,-5M798,104l6,5M798,104h9a5,5,0,0,1,5,5v3").attr("fill","none").attr("stroke",ig);
svg.append("path").attr("d","M852,104l-6,-5M852,104l-6,5M852,104h-9a5,5,0,0,0,-5,5v3").attr("fill","none").attr("stroke","#dde0e5");

// bottom bar
svg.append("path").attr("d","M24,876h7v8M35,873h7v14h-7M24,880h10l-3,-3M34,880l-3,3").attr("fill","none").attr("stroke","#222");
legendText(52,887,"定位到...","#1d2533",15).attr("font-weight",700);
legendText(154,887,"日期范围","#1d2533",15).attr("font-weight",700);
svg.append("path").attr("d","M226,880l2,2l2,-2").attr("fill","none").attr("stroke",grey);
svg.append("path").attr("d","M129.5,862V895M692.5,862V895").attr("stroke","#eef0f3");
svg.append("path").attr("d","M255.5,862V895").attr("stroke","#e1e4e8").attr("stroke-width",2);
svg.selectAll(".b").data(bottomLeft).enter().append("text")
  .attr("x",function(d,i){ return bottomX[i]; }).attr("y",887).attr("font-size",16)
  .attr("fill",function(d){ return d === "EMA" ? "#3d7ff0" : grey; }).text(function(d){ return d; });
legendText(595,885,"›",grey,11); legendText(1534,885,"›",grey,11);
svg.append("path").attr("d","M1566,875h10v14h-10zM1572,884l7,-8").attr("fill","none").attr("stroke",grey);
legendText(1590,887,"社区指标","#5a6270",16).attr("font-weight",700);
legendText(1674,887,"对数","#5a6270",16);
legendText(1720,887,"%","#5a6270",16);
legendText(1746,887,"自动","#5a6270",16);

// watermark
svg.append("text").attr("x",1657).attr("y",879).attr("font-size",22).attr("fill","#bfc3c9").attr("stroke","#fff").attr("stroke-width",0.6).text("@");
svg.append("text").attr("x",1686).attr("y",880).attr("font-size",24).attr("fill","#b8bcc2").attr("stroke","#fff").attr("stroke-width",0.8)
  .style("font-family","'Noto Sans CJK SC'").text("七七二时");
svg.append("path").attr("d","M1637,872l5,-5l5,5l5,-5l5,5l-5,6l-5,-3l-5,3z").attr("fill","#fff").attr("stroke","#c9ccd1");
</script>
</body>
</html>
